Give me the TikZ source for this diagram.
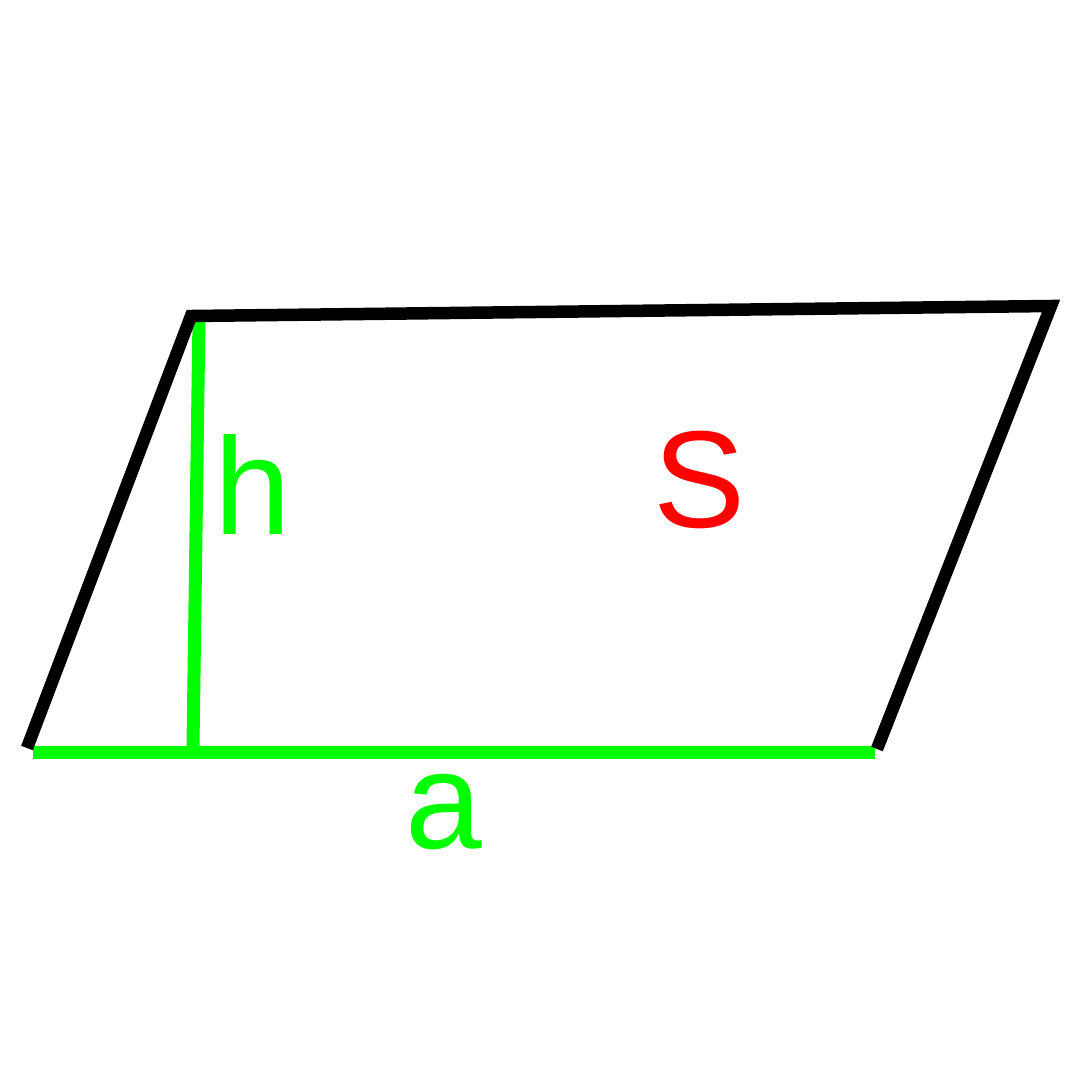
\documentclass[tikz,border=0pt]{standalone}
\usepackage{fontspec}
\setmainfont{Liberation Sans}
\definecolor{lgreen}{HTML}{00FF00}
\definecolor{lred}{HTML}{FF0000}
\begin{document}
\begin{tikzpicture}[x=1pt,y=-1pt,
  edge/.style={line width=12.5pt,black,line join=miter,line cap=butt},
  measure/.style={line width=13pt,lgreen,line cap=butt},
  lbl/.style={inner sep=0pt,anchor=base,font=\fontsize{138}{138}\selectfont}]
\useasboundingbox[fill=white] (0,0) rectangle (1080,1080);
% corners
\coordinate (BL) at (27,748);
\coordinate (TL) at (191,316);
\coordinate (TR) at (1051,306);
\coordinate (BR) at (877,749);
% height and base
\coordinate (Htop) at (199,318);
\coordinate (Hbot) at (193,746);
\coordinate (A0) at (33,752);
\coordinate (A1) at (875,752);
\draw[measure] (Htop) -- (Hbot);
\draw[measure] (A0) -- (A1);
\draw[edge] (BL) -- (TL) -- (TR) -- (BR);
\node[lbl,text=lgreen] (h) at (253,534) {h};
\node[lbl,text=lred] (S) at (700,527) {S};
\node[lbl,text=lgreen] (a) at (444,848) {a};
\end{tikzpicture}
\end{document}
